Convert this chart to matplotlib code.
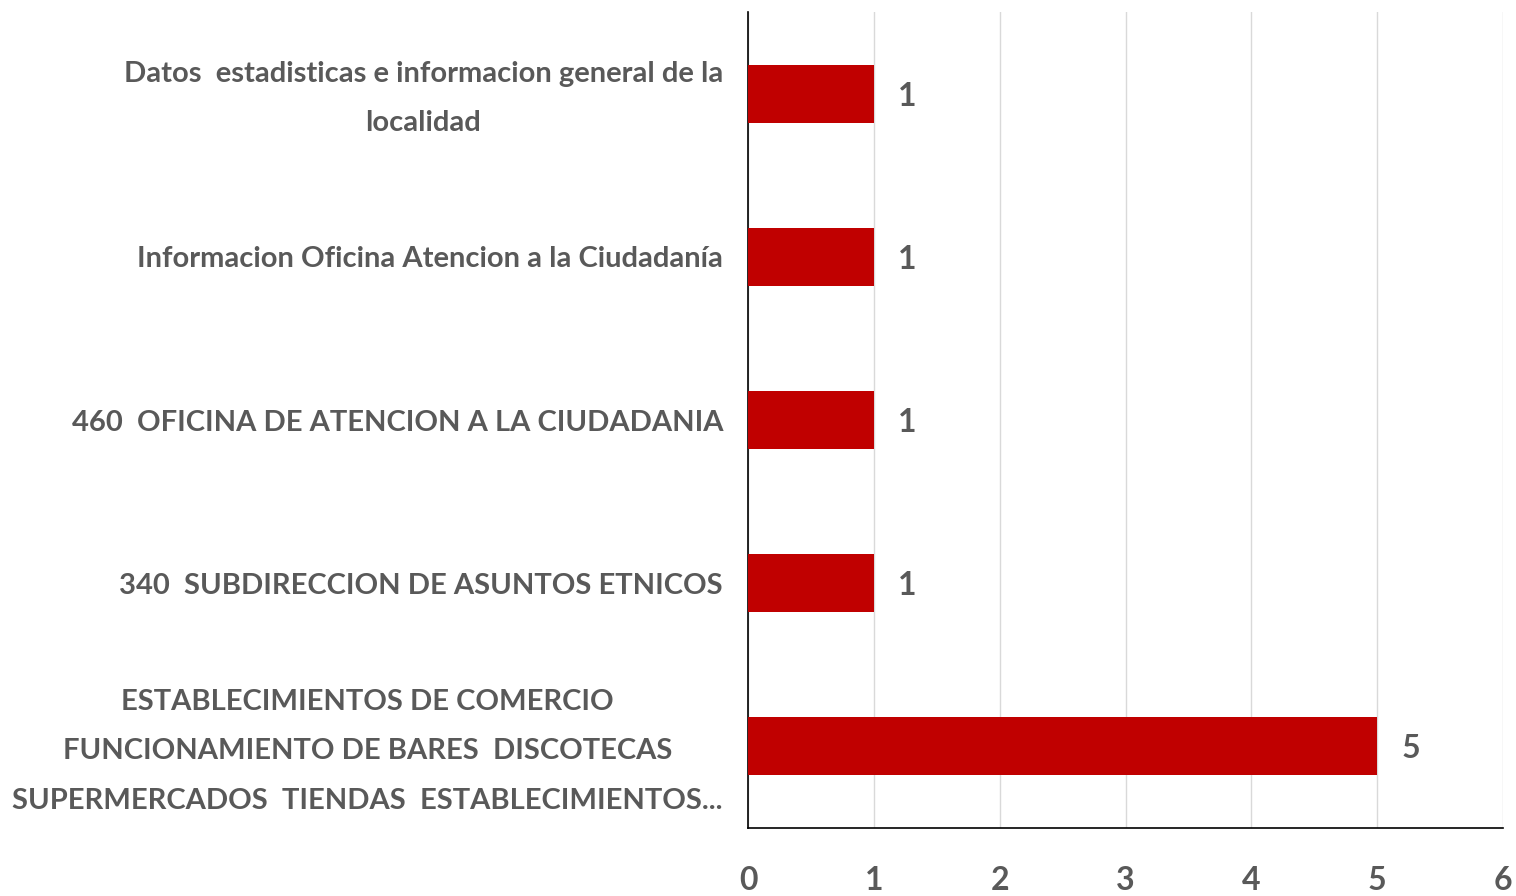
import matplotlib.pyplot as plt
import matplotlib.transforms as mtransforms

# categories listed top to bottom as shown
categories = [
    "Datos  estadisticas e informacion general de la\nlocalidad",
    "Informacion Oficina Atencion a la Ciudadanía",
    "460  OFICINA DE ATENCION A LA CIUDADANIA",
    "340  SUBDIRECCION DE ASUNTOS ETNICOS",
    "ESTABLECIMIENTOS DE COMERCIO\nFUNCIONAMIENTO DE BARES  DISCOTECAS\nSUPERMERCADOS  TIENDAS  ESTABLECIMIENTOS...",
]
values = [1, 1, 1, 1, 5]
x_ticks = [0, 1, 2, 3, 4, 5, 6]

BAR_COLOR = "#C00000"
TEXT_COLOR = "#595959"

plt.rcParams['font.family'] = ['Lato', 'DejaVu Sans']

fig = plt.figure(figsize=(15.16, 8.96), dpi=100)
ax = fig.add_axes([748 / 1516, 1 - 828 / 896, 755 / 1516, 816 / 896])

pos = list(range(len(categories)))
ax.barh(pos, values, height=0.355, color=BAR_COLOR, zorder=3)
ax.set_ylim(len(categories) - 0.5, -0.5)
ax.set_xlim(0, 6)
ax.set_xticks(x_ticks)
ax.set_xticklabels([str(t) for t in x_ticks], fontsize=23, fontweight='bold', color=TEXT_COLOR)
ax.set_yticks(pos)
ax.set_yticklabels(categories, fontsize=21, fontweight='bold', color=TEXT_COLOR,
                   multialignment='center', linespacing=2.1)
ax.tick_params(axis='both', length=0)
ax.tick_params(axis='x', pad=27)
ax.tick_params(axis='y', pad=18)

# nudge multi-line labels up a bit, like the original layout
shift = mtransforms.ScaledTranslation(0, 0.09, fig.dpi_scale_trans)
for lbl in ax.get_yticklabels():
    if "\n" in lbl.get_text():
        lbl.set_transform(lbl.get_transform() + shift)

ax.grid(axis='x', color='#D9D9D9', linewidth=1, zorder=0)
for side in ['top', 'right']:
    ax.spines[side].set_visible(False)
ax.spines['left'].set_color('black')
ax.spines['bottom'].set_color('black')
ax.spines['left'].set_linewidth(1.2)
ax.spines['bottom'].set_linewidth(1.2)

for p, v in zip(pos, values):
    ax.text(v + 0.19, p, str(v), va='center_baseline', ha='left', fontsize=23,
            fontweight='bold', color=TEXT_COLOR)

fig.savefig("out.png", dpi=100)
